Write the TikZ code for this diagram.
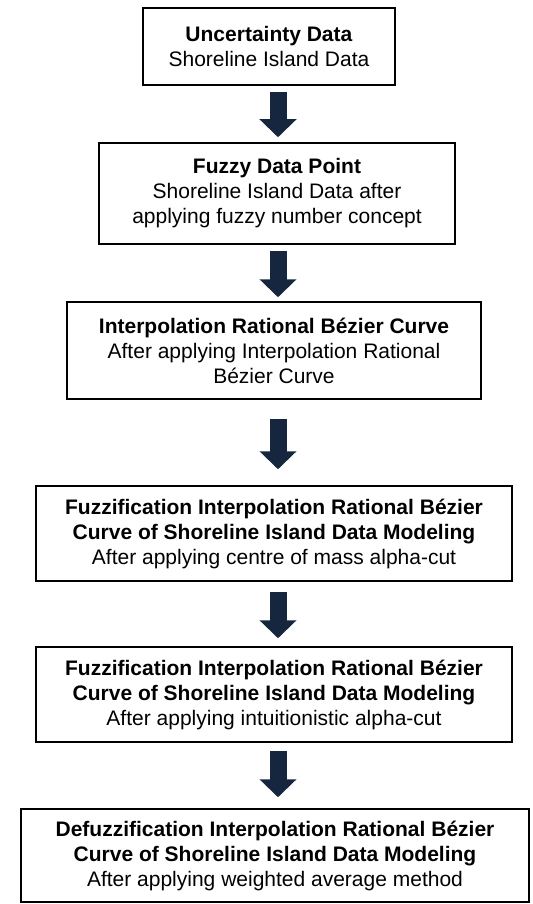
\documentclass[tikz,border=0pt]{standalone}
\usepackage{fontspec}
\setmainfont{Liberation Sans}
\usepackage{xcolor}
\usepackage{tikz}
\usetikzlibrary{arrows.meta, calc}
\definecolor{arrownavy}{HTML}{16263F}

\tikzset{
  stagebox/.style={draw=black, line width=0.75pt, align=center, inner sep=0pt,
                   font=\fontsize{10.5}{12.5}\selectfont},
  flowarrow/.style={draw=arrownavy, line width=8.5pt,
                    -{Triangle[width=18pt, length=9pt]}}
}

\begin{document}
\begin{tikzpicture}[x=0.5pt, y=-0.5pt]
  \useasboundingbox (0,0) rectangle (532,904);
  \coordinate (axis) at (278,0);

  \node[stagebox, minimum width=126pt, minimum height=38.5pt] (uncert) at (269,46.5)
    {\textbf{Uncertainty Data}\\Shoreline Island Data};
  \node[stagebox, minimum width=178pt, minimum height=50.5pt] (fuzzypt) at (277,193.5)
    {\textbf{Fuzzy Data Point}\\Shoreline Island Data after\\applying fuzzy number concept};
  \node[stagebox, minimum width=207pt, minimum height=48.5pt] (interp) at (274,350.5)
    {\textbf{Interpolation Rational Bézier Curve}\\After applying Interpolation Rational\\Bézier Curve};
  \node[stagebox, minimum width=238pt, minimum height=47.5pt] (fuzzcm) at (274,533.5)
    {\textbf{Fuzzification Interpolation Rational Bézier}\\\textbf{Curve of Shoreline Island Data Modeling}\\After applying centre of mass alpha-cut};
  \node[stagebox, minimum width=238pt, minimum height=47.5pt] (fuzzint) at (274,694.5)
    {\textbf{Fuzzification Interpolation Rational Bézier}\\\textbf{Curve of Shoreline Island Data Modeling}\\After applying intuitionistic alpha-cut};
  \node[stagebox, minimum width=254pt, minimum height=46.5pt] (defuzz) at (275,855.5)
    {\textbf{Defuzzification Interpolation Rational Bézier}\\\textbf{Curve of Shoreline Island Data Modeling}\\After applying weighted average method};

  % block arrows between the stages
  \draw[flowarrow, shorten <=3pt, shorten >=2.5pt] (uncert.south -| axis) -- (fuzzypt.north -| axis);
  \draw[flowarrow, shorten <=3pt, shorten >=2pt] (fuzzypt.south -| axis) -- (interp.north -| axis);
  \draw[flowarrow, shorten <=9.5pt, shorten >=8pt] (interp.south -| axis) -- (fuzzcm.north -| axis);
  \draw[flowarrow, shorten <=5pt, shorten >=4pt] (fuzzcm.south -| axis) -- (fuzzint.north -| axis);
  \draw[flowarrow, shorten <=4pt, shorten >=5.5pt] (fuzzint.south -| axis) -- (defuzz.north -| axis);
\end{tikzpicture}
\end{document}
